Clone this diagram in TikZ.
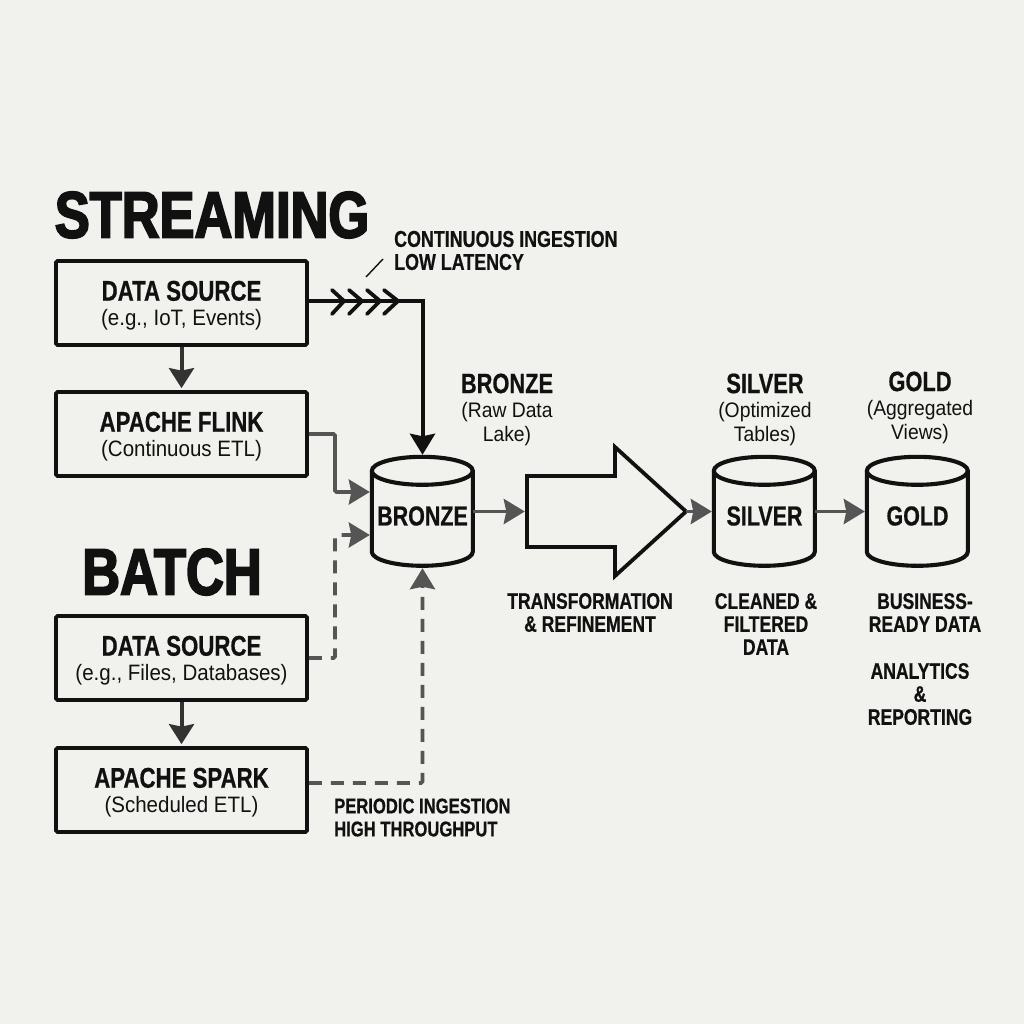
\documentclass[tikz,border=0pt]{standalone}
\usepackage{fontspec}
\usetikzlibrary{arrows.meta,calc}
\newfontfamily\cond[FakeStretch=0.78,BoldFeatures={FakeBold=0.6}]{Liberation Sans}
\newfontfamily\reg[FakeStretch=0.92]{Liberation Sans}
\newfontfamily\heavy[FakeStretch=0.80,FakeBold=2.8]{Liberation Sans}
\definecolor{paper}{HTML}{F1F1ED}
\definecolor{ink}{HTML}{111111}
\definecolor{flow}{HTML}{555555}
\definecolor{drop}{HTML}{333333}
\tikzset{
  box/.style={draw=ink,line width=3.7pt,rounded corners=1.5pt,minimum width=251pt,minimum height=84pt,inner sep=0pt,align=center,text=ink},
  main/.style={font=\cond\bfseries\fontsize{28.5}{27}\selectfont},
  title/.style={inner sep=0pt,text=ink,font=\heavy\bfseries\fontsize{65.5}{65}\selectfont},
  small/.style={inner sep=0pt,text=ink,align=center,font=\cond\bfseries\fontsize{22.5}{23}\selectfont},
  head/.style={inner sep=0pt,text=ink,align=center,font=\cond\bfseries\fontsize{28}{24}\selectfont},
  cylbody/.style={minimum width=101pt,minimum height=109pt,inner sep=0pt},
  cylline/.style={draw=ink,line width=4.1pt},
  cyltext/.style={inner sep=0pt,text=ink,font=\cond\bfseries\fontsize{27.5}{27}\selectfont},
  flowline/.style={draw=flow,line width=3.8pt,rounded corners=1.5pt,shorten >=2pt,-{Stealth[length=21pt,width=25pt,inset=2.5pt]}},
  dashflow/.style={flowline,dash pattern=on 13pt off 9pt},
  strong/.style={draw=drop,line width=4pt,shorten >=2pt,-{Stealth[length=20pt,width=25pt,inset=2.5pt]}},
  feed/.style={draw=ink,line width=4pt,shorten >=2pt,-{Stealth[length=21pt,width=25pt,inset=2.5pt]}},
  chevron/.style={draw=ink,line width=3.8pt,line cap=round,line join=miter},
}
\newcommand{\boxtext}[2]{\rule{0pt}{25pt}#1\\[-2pt]{\normalfont\reg\fontsize{22.3}{27}\selectfont #2}}
\newcommand{\subsm}[1]{{\normalfont\reg\fontsize{21}{22}\selectfont #1}}
\newcommand{\drawcyl}[1]{%
  \draw[cylline] (#1.north west)++(0,14) arc[start angle=180,end angle=360,x radius=50.5,y radius=14]
    -- ++(0,81) arc[start angle=0,end angle=180,x radius=50.5,y radius=14] -- cycle;
  \draw[cylline] (#1.north west)++(0,14) arc[start angle=180,end angle=0,x radius=50.5,y radius=14];
}
\begin{document}
\begin{tikzpicture}[x=1pt,y=-1pt]
\useasboundingbox[fill=paper] (0,0) rectangle (1024,1024);

\node[title] (tstream) at (212,215) {STREAMING};
\node[title] (tbatch) at (172,572) {BATCH};

\node[box,main] (ds1) at (181.5,303) {\boxtext{DATA SOURCE}{(e.g., IoT, Events)}};
\node[box,main] (flink) at (181.5,434) {\boxtext{APACHE FLINK}{(Continuous ETL)}};
\node[box,main] (ds2) at (181.5,658) {\boxtext{DATA SOURCE}{(e.g., Files, Databases)}};
\node[box,main] (spark) at (181.5,790) {\boxtext{APACHE SPARK}{(Scheduled ETL)}};

\node[cylbody] (bronze) at (422.5,511.5) {};
\node[cylbody] (silver) at (764.5,511.5) {};
\node[cylbody] (gold) at (917.5,511.5) {};
\drawcyl{bronze}
\drawcyl{silver}
\drawcyl{gold}
\node[cyltext] (lb) at (422.5,516) {BRONZE};
\node[cyltext] (ls) at (764.5,516) {SILVER};
\node[cyltext] (lg) at (917.5,516) {GOLD};

\node[minimum width=159pt,minimum height=129pt,inner sep=0pt] (bigarrow) at (606.5,511.5) {};
\draw[draw=ink,line width=3.8pt,line join=miter]
  (527,476) -- (615,476) -- (615,447) -- (686,511.5) -- (615,576) -- (615,547) -- (527,547) -- cycle;

\draw[strong] (ds1.south) -- (flink.north);
\draw[strong] (ds2.south) -- (spark.north);

\draw[feed] ([yshift=2.5pt]ds1.east) -| (bronze.north);
\draw[chevron] (332,290) -- (344,301) -- (332,314);
\draw[chevron] (349,290) -- (362,301) -- (349,314);
\draw[chevron] (367,290) -- (380,301) -- (367,314);
\draw[chevron] (384,290) -- (398,301) -- (384,314);
\coordinate (ticka) at (366,277);
\coordinate (tickb) at (383,259);
\draw[draw=ink,line width=1.4pt] (ticka) -- (tickb);

\draw[flowline] (flink.east) -- (335,434) |- ([yshift=19.5pt]bronze.west);
\draw[dashflow] (ds2.east) -- (335,658) |- ([yshift=-23.5pt]bronze.west);
\draw[dashflow] ([yshift=7pt]spark.east) -| (bronze.south);

\draw[flowline] (bronze.east) -- (bigarrow.west);
\draw[flowline] (bigarrow.east) -- (silver.west);
\draw[flowline] (silver.east) -- (gold.west);

\node[small,anchor=west,align=left,font=\cond\bfseries\fontsize{22.9}{23}\selectfont] (cont) at (394,250.5) {CONTINUOUS INGESTION\\LOW LATENCY};
\node[small,anchor=west,align=left,font=\cond\bfseries\fontsize{21.3}{23}\selectfont] (peri) at (334,817.5) {PERIODIC INGESTION\\HIGH THROUGHPUT};

\node[head] (hb) at (507,409.5) {BRONZE\\\subsm{(Raw Data}\\\subsm{Lake)}};
\node[head] (hs) at (765,409.5) {SILVER\\\subsm{(Optimized}\\\subsm{Tables)}};
\node[head] (hg) at (920,407.5) {GOLD\\\subsm{(Aggregated}\\\subsm{Views)}};

\node[small] (n1) at (590,612.5) {TRANSFORMATION\\\& REFINEMENT};
\node[small] (n2) at (766,624) {CLEANED \&\\FILTERED\\DATA};
\node[small] (n3) at (925,612.5) {BUSINESS-\\READY DATA};
\node[small] (n4) at (920,694) {ANALYTICS\\\&\\REPORTING};
\end{tikzpicture}
\end{document}
